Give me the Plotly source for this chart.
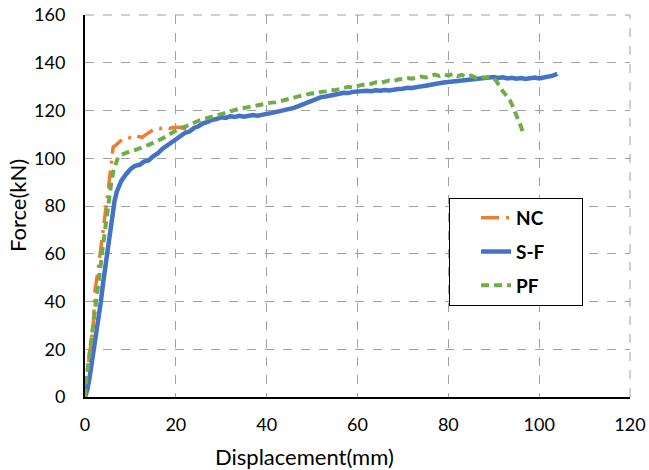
import plotly.graph_objects as go

# ---------------- data ----------------
nc_x = [0, 0.4, 1.0, 1.8, 2.2, 2.8, 3.3, 3.9, 4.4, 5.1, 5.5, 5.9, 6.2, 6.8, 7.5, 8.4,
        9.5, 10.6, 11.5, 12.5, 13.5, 14.5, 15.5, 16.5, 17.5, 18.5, 19.5, 20.9, 22.0, 23.0]
nc_y = [0, 8.5, 18.0, 29.4, 44.8, 52.0, 60.2, 69.0, 77.0, 86.6, 93.0, 99.2, 104.7, 105.5,
        106.5, 108.2, 108.8, 108.2, 109.3, 108.7, 110.0, 111.2, 112.6, 112.4, 113.1, 112.5,
        112.9, 113.0, 112.2, 111.7]

sf_x = [0, 0.5, 1, 1.5, 2, 2.5, 3, 3.5, 4, 4.5, 5, 5.5, 6, 6.5, 7, 7.5,
        8, 9, 10, 11, 12, 13, 14, 15, 16, 17, 18, 19, 20, 21, 22, 23, 24, 25, 26, 27,
        28, 29, 30, 31, 32, 33, 34, 35, 36, 37, 38, 39, 40, 41, 42, 43, 44, 45, 46, 47,
        48, 49, 50, 51, 52, 53, 54, 55, 56, 57, 58, 59, 60, 61, 62, 63, 64, 65, 66, 67,
        68, 69, 70, 71, 72, 73, 74, 75, 76, 77, 78, 79, 80, 81, 82, 83, 84, 85, 86, 87,
        88, 89, 90, 91, 92, 93, 94, 95, 96, 97, 98, 99, 100, 101, 102, 103, 104]
sf_y = [0, 3, 8, 14, 19.5, 26, 33, 40, 48, 55, 62, 69, 76, 82, 86, 88.5,
        90.5, 93.2, 95.4, 96.8, 97.2, 98.6, 99.1, 100.8, 102.0, 103.9, 105.2, 106.6, 108.3,
        109.2, 110.6, 111.2, 112.7, 113.4, 114.6, 115.2, 116.1, 116.4, 117.2, 116.9, 117.6,
        117.3, 117.8, 117.4, 117.9, 118.1, 117.8, 118.4, 118.6, 118.9, 119.3, 119.6, 120.2,
        120.5, 121.1, 121.8, 122.6, 123.4, 124.0, 124.9, 125.6, 125.9, 126.4, 126.8, 127.0,
        127.4, 127.3, 127.8, 128.0, 127.9, 128.3, 128.1, 128.5, 128.3, 128.6, 128.4, 128.8,
        129.0, 129.1, 129.5, 129.4, 129.9, 130.1, 130.4, 130.6, 131.1, 131.4, 131.7, 131.9,
        132.2, 132.5, 132.4, 132.9, 133.1, 133.0, 133.4, 133.6, 133.8, 134.0, 133.6, 133.9,
        133.4, 133.7, 133.3, 133.6, 133.2, 133.5, 133.8, 133.4, 133.7, 134.1, 134.6, 135.3]

pf_x = [0, 0.3, 0.8, 1.3, 1.8, 2.3, 2.8, 3.3, 3.8, 4.3, 4.8, 5.3, 5.8, 6.3, 6.8, 7.3,
        8, 9, 10, 11, 12, 13, 14, 15, 16, 17, 18, 19, 20, 21, 22, 23, 24, 25, 26, 27,
        28, 29, 30, 31, 32, 33, 34, 35, 36, 37, 38, 39, 40, 41, 42, 43, 44, 45, 46, 47,
        48, 49, 50, 51, 52, 53, 54, 55, 56, 57, 58, 59, 60, 61, 62, 63, 64, 65, 66, 67,
        68, 69, 70, 71, 72, 73, 74, 75, 76, 77, 78, 79, 80, 81, 82, 83, 84, 85, 86, 87,
        88, 89, 90, 90.5, 91, 91.5, 92, 92.5, 93, 93.5, 94, 94.5, 95, 95.5, 96, 96.5]
pf_y = [0, 8, 15, 22, 29, 37, 45, 53, 61, 69, 77, 84, 90, 95, 98.5, 100.5,
        101.4, 102.3, 103.0, 103.4, 104.3, 104.9, 105.6, 106.4, 107.3, 108.2, 109.4, 110.6,
        111.5, 112.6, 113.2, 114.1, 114.8, 115.7, 116.3, 116.9, 117.6, 118.2, 118.7, 119.0,
        119.6, 120.2, 120.7, 121.1, 121.5, 122.0, 122.2, 122.6, 123.0, 123.3, 123.4, 124.0,
        124.6, 125.1, 125.4, 125.9, 126.4, 126.6, 127.2, 127.1, 127.8, 128.0, 128.6, 128.5,
        129.0, 129.4, 129.9, 129.6, 130.2, 130.8, 130.6, 131.3, 131.8, 131.5, 132.2, 132.6,
        132.3, 133.0, 133.2, 133.6, 133.3, 133.9, 134.2, 133.8, 134.4, 135.0, 134.5, 135.2,
        134.6, 135.3, 134.4, 134.9, 134.1, 134.6, 133.8, 134.3, 133.7, 134.0, 133.2, 132.6,
        131.0, 129.2, 128.0, 126.9, 125.8, 124.4, 122.6, 120.5, 118.3, 115.9, 113.2, 110.3]

x_ticks = [0, 20, 40, 60, 80, 100, 120]
y_ticks = [0, 20, 40, 60, 80, 100, 120, 140, 160]
series_names = ["NC", "S-F", "PF"]

FONT = "Lato"
GRID = "#A0A0A0"
PAD = "\u00a0" * 7  # widen legend box to match reference

fig = go.Figure()
fig.add_trace(go.Scatter(x=nc_x, y=nc_y, mode="lines", name=series_names[0] + PAD, legendgroup="a",
                         line=dict(color="#ED7D31", width=3.5, dash="18px,7px,3px,7px")))
fig.add_trace(go.Scatter(x=sf_x, y=sf_y, mode="lines", name=series_names[1] + PAD, legendgroup="b",
                         line=dict(color="#4472C4", width=4.5)))
fig.add_trace(go.Scatter(x=pf_x, y=pf_y, mode="lines", name=series_names[2] + PAD, legendgroup="c",
                         line=dict(color="#70AD47", width=4, dash="8px,5px")))

fig.update_layout(
    width=649, height=470,
    margin=dict(l=85, r=19, t=15, b=73, autoexpand=False),
    paper_bgcolor="white", plot_bgcolor="white",
    font=dict(family=FONT, size=18, color="#000000"),
    showlegend=True,
    legend=dict(x=0.668, y=0.521, xanchor="left", yanchor="top",
                bgcolor="white", bordercolor="#000000", borderwidth=1,
                font=dict(family=FONT, size=19, color="#000000", weight="bold"),
                tracegroupgap=6, indentation=26),
    shapes=[
        dict(type="line", xref="paper", yref="paper", x0=0, x1=1, y0=1, y1=1,
             line=dict(color=GRID, width=1, dash="dash"), layer="below"),
        dict(type="line", xref="paper", yref="paper", x0=1, x1=1, y0=0, y1=1,
             line=dict(color=GRID, width=1, dash="dash"), layer="below"),
    ],
    annotations=[
        dict(text="Displacement(mm)", xref="paper", yref="paper", x=0.402, y=0,
             yshift=-59, xanchor="center", yanchor="middle", showarrow=False,
             font=dict(family=FONT, size=22)),
        dict(text="Force(kN)", xref="paper", yref="paper", x=0, y=0.5,
             xshift=-68, xanchor="center", yanchor="middle", showarrow=False,
             textangle=-90, font=dict(family=FONT, size=22)),
    ],
)
fig.update_xaxes(range=[0, 120], tickvals=x_ticks, ticktext=[str(v) for v in x_ticks],
                 showgrid=True, gridcolor=GRID, griddash="dash", gridwidth=1,
                 showline=True, linecolor="#000000", linewidth=2, zeroline=False,
                 automargin=False,
                 ticks="", ticklabelstandoff=10, tickfont=dict(family=FONT, size=18))
fig.update_yaxes(range=[0, 160], tickvals=y_ticks, ticktext=[str(v) for v in y_ticks],
                 showgrid=True, gridcolor=GRID, griddash="dash", gridwidth=1,
                 showline=True, linecolor="#000000", linewidth=2, zeroline=False,
                 automargin=False,
                 ticks="", ticklabelstandoff=14, tickfont=dict(family=FONT, size=18))

# remove the browser's default 8px body margin so the figure fills the window exactly
fig.write_html("out.html", config={"displayModeBar": False},
               post_script="document.body.style.margin='0px';document.body.style.overflow='hidden';")
